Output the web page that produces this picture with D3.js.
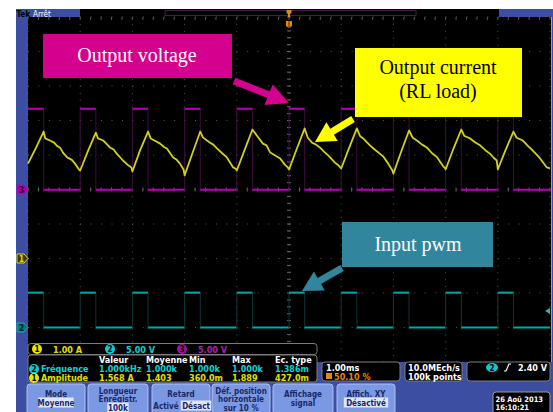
<!DOCTYPE html>
<html>
<head>
<meta charset="utf-8">
<script src="https://cdn.jsdelivr.net/npm/d3@7"></script>
<style>
  body { margin: 0; background: #fff; }
  svg { display: block; }
  .ro { font-family: "DejaVu Sans Condensed", "DejaVu Sans", sans-serif; font-weight: bold; font-size: 9px; }
  .btn { font-size: 8px; }
  .note { font-family: "Liberation Serif", "Times New Roman", serif; font-size: 20px; }
</style>
</head>
<body>
<svg id="scope" width="553" height="412"></svg>
<script>
// graticule divisions (10 x 10, 1 ms / div)
var timeDivs = [-5, -4, -3, -2, -1, 0, 1, 2, 3, 4, 5];
var levelDivs = [0, 1, 2, 3, 4, 5, 6, 7, 8, 9, 10];

// channel settings: scale per div, ground position in divs from bottom
var channels = [
    {ch: 1, label: '1.00 A', perDiv: 1, pos: 3, color: '#d8d820'},
    {ch: 2, label: '5.00 V', perDiv: 5, pos: 1, color: '#00b0b0'},
    {ch: 3, label: '5.00 V', perDiv: 5, pos: 5, color: '#c000c0'}
];

// pwm rising / falling edges (ms)
var pwmEdges = [[-5, -4.7], [-4, -3.7], [-3, -2.7], [-2, -1.7], [-1, -0.7],
                [0, 0.3], [1, 1.3], [2, 2.3], [3, 3.3], [4, 4.3]];
var pwmLevels = [0, 5.05];        // ch2, V
var outLevels = [-0.05, 11.7];    // ch3, V

// ch1 output current (ms, A above ground marker)
var current = [
    [-5.00, 2.75], [-4.85, 3.20], [-4.70, 3.68], [-4.67, 3.48], [-4.58, 3.42], [-4.50, 3.36],
    [-4.44, 3.26], [-4.38, 3.20], [-4.33, 3.07], [-4.25, 2.93], [-4.16, 2.86], [-4.10, 2.75], [-4.02, 2.57],
    [-4.00, 2.55], [-3.85, 3.12], [-3.70, 3.65], [-3.66, 3.48], [-3.56, 3.42], [-3.50, 3.33],
    [-3.43, 3.22], [-3.36, 3.16], [-3.30, 3.04], [-3.18, 2.84], [-3.08, 2.70], [-3.02, 2.64],
    [-3.00, 2.52], [-2.85, 3.15], [-2.70, 3.68], [-2.65, 3.48], [-2.55, 3.40], [-2.47, 3.33],
    [-2.40, 3.24], [-2.34, 3.19], [-2.22, 2.93], [-2.15, 2.86], [-2.09, 2.75], [-2.02, 2.58],
    [-2.00, 2.41], [-1.85, 3.05], [-1.70, 3.68], [-1.65, 3.51], [-1.52, 3.36], [-1.45, 3.30],
    [-1.38, 3.19], [-1.28, 3.05], [-1.19, 2.93], [-1.07, 2.64], [-1.02, 2.60],
    [-1.00, 2.55], [-0.85, 3.15], [-0.70, 3.74], [-0.61, 3.55], [-0.50, 3.33], [-0.43, 3.28],
    [-0.36, 3.07], [-0.28, 3.00], [-0.17, 2.90], [-0.08, 2.72], [-0.01, 2.62],
    [0.00, 2.58], [0.15, 3.18], [0.30, 3.77], [0.36, 3.50], [0.44, 3.36], [0.52, 3.30],
    [0.59, 3.22], [0.67, 3.10], [0.75, 2.99], [0.88, 2.78], [0.96, 2.68],
    [1.00, 2.61], [1.15, 3.20], [1.30, 3.77], [1.36, 3.55], [1.42, 3.48], [1.55, 3.28],
    [1.64, 3.16], [1.74, 3.04], [1.82, 2.93], [1.90, 2.75], [1.98, 2.55],
    [2.00, 2.46], [2.15, 3.10], [2.30, 3.71], [2.37, 3.50], [2.45, 3.42], [2.55, 3.30],
    [2.64, 3.22], [2.74, 3.05], [2.84, 2.93], [2.95, 2.68], [2.99, 2.62],
    [3.00, 2.58], [3.15, 3.18], [3.30, 3.74], [3.36, 3.55], [3.47, 3.48], [3.57, 3.36],
    [3.66, 3.28], [3.76, 3.14], [3.85, 3.04], [3.92, 2.92], [3.98, 2.84],
    [4.00, 2.58], [4.15, 3.15], [4.30, 3.68], [4.36, 3.50], [4.48, 3.42], [4.58, 3.26],
    [4.67, 3.13], [4.74, 3.02], [4.81, 2.90], [4.94, 2.64], [5.00, 2.61]
];

// measurement readout
var measHeaders = ['Valeur', 'Moyenne', 'Min', 'Max', 'Ec. type'];
var measRows = [
    {ch: 2, name: 'Fréquence', vals: ['1.000kHz', '1.000k', '1.000k', '1.000k', '1.386m']},
    {ch: 1, name: 'Amplitude', vals: ['1.568 A', '1.403', '360.0m', '1.889', '427.0m']}
];

var buttons = [
    {x: 27, w: 58, lines: ['Mode'], sel: 'Moyenne'},
    {x: 88, w: 60, lines: ['Longueur', 'Enregistr.'], sel: '100k'},
    {x: 152, w: 58, lines: ['Retard'], sel: 'Désact', other: 'Activé'},
    {x: 212, w: 58, lines: ['Déf. position', 'horizontale', 'sur 10 %']},
    {x: 273, w: 60, lines: ['Affichage', 'signal']},
    {x: 337, w: 58, lines: ['Affich. XY'], sel: 'Désactivé'}
];

var svg = d3.select('#scope');
var frameBlue = '#3c4ea2';

var x = d3.scaleLinear().domain([-5, 5]).range([28, 550]);
var yDiv = d3.scaleLinear().domain([0, 10]).range([362, 17]);
var yCh = {};
channels.forEach(function(c) {
    yCh[c.ch] = d3.scaleLinear()
        .domain([-c.pos * c.perDiv, (10 - c.pos) * c.perDiv])
        .range(yDiv.range());
});

// frame
svg.append('rect').attr('x', 16).attr('y', 9).attr('width', 537).attr('height', 403).attr('fill', frameBlue);
svg.append('rect').attr('x', 28).attr('y', 17).attr('width', 523).attr('height', 345).attr('fill', '#000');
svg.append('line').attr('x1', 551.5).attr('x2', 551.5).attr('y1', 17).attr('y2', 362)
    .attr('stroke', '#8aa0d8').attr('stroke-width', 1);

// top bar
svg.append('rect').attr('x', 80).attr('y', 9).attr('width', 419).attr('height', 8).attr('fill', '#000');
svg.append('rect').attr('x', 165).attr('y', 10.5).attr('width', 251).attr('height', 5)
    .attr('fill', 'none').attr('stroke', '#4a1c4a').attr('stroke-width', 1);
svg.append('text').attr('class', 'ro').attr('x', 16.5).attr('y', 16.5).style('font-size', '8px')
    .attr('fill', '#000').text('Tek');
svg.append('text').attr('class', 'ro').attr('x', 33).attr('y', 16.5).style('font-size', '8px')
    .style('font-weight', 'normal').attr('fill', '#fff').text('Arrêt');

// graticule
var grid = svg.append('g');
grid.selectAll('line.v').data(timeDivs).enter().append('line')
    .attr('x1', function(d) { return x(d); }).attr('x2', function(d) { return x(d); })
    .attr('y1', yDiv(10)).attr('y2', yDiv(0))
    .attr('stroke', '#555').attr('stroke-width', 1)
    .attr('stroke-dasharray', '1,' + ((yDiv(0) - yDiv(1)) / 5 - 1));
grid.selectAll('line.h').data(levelDivs).enter().append('line')
    .attr('y1', function(d) { return yDiv(d); }).attr('y2', function(d) { return yDiv(d); })
    .attr('x1', x(-5)).attr('x2', x(5))
    .attr('stroke', '#555').attr('stroke-width', 1)
    .attr('stroke-dasharray', '1,' + ((x(1) - x(0)) / 5 - 1));
// minor ticks on centre lines and top edge
var minorT = d3.range(-25, 26).map(function(i) { return i / 5; });
var minorL = d3.range(0, 51).map(function(i) { return i / 5; });
grid.selectAll('line.tc').data(minorT).enter().append('line')
    .attr('x1', function(d) { return x(d); }).attr('x2', function(d) { return x(d); })
    .attr('y1', yDiv(5) - 2).attr('y2', yDiv(5) + 2).attr('stroke', '#666');
grid.selectAll('line.tt').data(minorT).enter().append('line')
    .attr('x1', function(d) { return x(d); }).attr('x2', function(d) { return x(d); })
    .attr('y1', yDiv(10)).attr('y2', yDiv(10) + 3).attr('stroke', '#555');
grid.selectAll('line.lc').data(minorL).enter().append('line')
    .attr('y1', function(d) { return yDiv(d); }).attr('y2', function(d) { return yDiv(d); })
    .attr('x1', x(0) - 2).attr('x2', x(0) + 2).attr('stroke', '#666');

// traces
var traces = svg.append('g');
function drawPwm(levels, scale, color, edgeColor) {
    var lo = scale(levels[0]), hi = scale(levels[1]);
    pwmEdges.forEach(function(e, i) {
        var next = i + 1 < pwmEdges.length ? pwmEdges[i + 1][0] : 5;
        [e[0], e[1]].forEach(function(t) {
            if (t > -5) {
                traces.append('line').attr('x1', x(t)).attr('x2', x(t)).attr('y1', hi).attr('y2', lo + 2)
                    .attr('stroke', edgeColor).attr('stroke-width', 1);
            }
        });
        traces.append('line').attr('x1', x(e[0])).attr('x2', x(e[1])).attr('y1', hi).attr('y2', hi)
            .attr('stroke', color).attr('stroke-width', 2);
        traces.append('line').attr('x1', x(e[1])).attr('x2', x(next)).attr('y1', lo).attr('y2', lo)
            .attr('stroke', color).attr('stroke-width', 2);
    });
}
drawPwm(outLevels, yCh[3], '#b800b8', '#3e0e3e');
drawPwm(pwmLevels, yCh[2], '#00a8a8', '#0a3838');

traces.append('path')
    .datum(current)
    .attr('d', d3.line().x(function(d) { return x(d[0]); }).y(function(d) { return yCh[1](d[1]); }))
    .attr('fill', 'none').attr('stroke', '#d0d020').attr('stroke-width', 1.8)
    .attr('stroke-linejoin', 'round');

// channel ground markers on the left
var markerFill = {1: '#3c3c00', 2: '#007a7a', 3: '#a000a0'};
var markerText = {1: '#e0e020', 2: '#002020', 3: '#300030'};
channels.forEach(function(c) {
    var yy = yDiv(c.pos);
    svg.append('path')
        .attr('d', 'M17,' + (yy - 4.5) + 'H24L28,' + yy + 'L24,' + (yy + 4.5) + 'H17Z')
        .attr('fill', markerFill[c.ch]).attr('stroke', c.color).attr('stroke-width', 1);
    svg.append('text').attr('class', 'ro').attr('x', 21.5).attr('y', yy + 3)
        .attr('text-anchor', 'middle').style('font-size', '8px')
        .attr('fill', markerText[c.ch]).text(c.ch);
});

// trigger level marker (right) and trigger position (top)
svg.append('path')
    .attr('d', 'M545,' + yCh[2](2.4) + 'l5,-3v6z')
    .attr('fill', '#00c8c8');
svg.append('path').attr('d', 'M286.5,10h5v3l-1.5,1v3h-2v-3l-1.5,-1z').attr('fill', '#e08a10');
svg.append('path').attr('d', 'M286,21h6v5l-3,2l-3,-2z').attr('fill', '#e08a10');
svg.append('line').attr('x1', 289).attr('x2', 289).attr('y1', 21).attr('y2', 28)
    .attr('stroke', '#5a3000').attr('stroke-width', 1);

// readout panel
var badgeFill = {1: '#e8e800', 2: '#10c8d0', 3: '#a010a0'};
function badge(g, cx, cy, ch) {
    g.append('circle').attr('cx', cx).attr('cy', cy).attr('r', 5).attr('fill', badgeFill[ch]);
    g.append('text').attr('class', 'ro').attr('x', cx).attr('y', cy + 3).attr('text-anchor', 'middle')
        .style('font-size', '8px').attr('fill', '#000').text(ch);
}
var ro = svg.append('g');
ro.append('rect').attr('x', 28).attr('y', 343.5).attr('width', 289).attr('height', 11).attr('rx', 3)
    .attr('fill', '#000').attr('stroke', '#7a7a7a');
ro.append('rect').attr('x', 28).attr('y', 355).attr('width', 289).attr('height', 27).attr('rx', 3)
    .attr('fill', '#000').attr('stroke', '#7a7a7a');
var chX = [37, 110, 182];
var txtColor = {1: '#e0e000', 2: '#10d0d0', 3: '#b020b0'};
channels.forEach(function(c, i) {
    badge(ro, chX[i], 349, c.ch);
    ro.append('text').attr('class', 'ro').attr('x', chX[i] + 16).attr('y', 352.5)
        .attr('fill', txtColor[c.ch]).text(c.label);
});
var colX = [99, 146, 189, 232, 275];
measHeaders.forEach(function(h, i) {
    ro.append('text').attr('class', 'ro').attr('x', colX[i]).attr('y', 363)
        .attr('fill', '#fff').text(h);
});
measRows.forEach(function(r, j) {
    var yy = 372 + j * 9;
    badge(ro, 34, yy - 3, r.ch);
    ro.append('text').attr('class', 'ro').attr('x', 41).attr('y', yy).attr('fill', txtColor[r.ch]).text(r.name);
    r.vals.forEach(function(v, i) {
        ro.append('text').attr('class', 'ro').attr('x', colX[i]).attr('y', yy)
            .attr('fill', txtColor[r.ch]).text(v);
    });
});

// right info boxes
function infoBox(x0, w) {
    svg.append('rect').attr('x', x0).attr('y', 362).attr('width', w).attr('height', 19).attr('rx', 3)
        .attr('fill', '#000').attr('stroke', '#7a7a7a');
}
infoBox(322, 78);
infoBox(405, 57);
infoBox(467, 83);
svg.append('text').attr('class', 'ro').attr('x', 326).attr('y', 370.5).attr('fill', '#fff').text('1.00ms');
svg.append('rect').attr('x', 326).attr('y', 373).attr('width', 6).attr('height', 6).attr('fill', '#e08a10');
svg.append('text').attr('class', 'ro').attr('x', 334).attr('y', 379.5).attr('fill', '#e08a10').text('50.10 %');
svg.append('text').attr('class', 'ro').attr('x', 408).attr('y', 370.5).attr('fill', '#fff').text('10.0MEch/s');
svg.append('text').attr('class', 'ro').attr('x', 408).attr('y', 379.5).attr('fill', '#fff').text('100k points');
svg.append('ellipse').attr('cx', 492).attr('cy', 367.5).attr('rx', 6).attr('ry', 4.5).attr('fill', '#10c8d0');
svg.append('text').attr('class', 'ro').attr('x', 492).attr('y', 370.5).attr('text-anchor', 'middle')
    .style('font-size', '8px').attr('fill', '#000').text('2');
svg.append('path').attr('d', 'M504,371h2l3,-7h2').attr('fill', 'none').attr('stroke', '#fff').attr('stroke-width', 1.2);
svg.append('text').attr('class', 'ro').attr('x', 547).attr('y', 370.5).attr('text-anchor', 'end')
    .attr('fill', '#fff').text('2.40 V');

// soft buttons
buttons.forEach(function(b) {
    var g = svg.append('g');
    g.append('rect').attr('x', b.x).attr('y', 384).attr('width', b.w).attr('height', 30).attr('rx', 3)
        .attr('fill', '#7b99e2').attr('stroke', '#aebff0');
    var cx = b.x + b.w / 2;
    var n = b.lines.length + (b.sel ? 1 : 0);
    var y0 = n === 3 ? 390.5 : 394;
    b.lines.forEach(function(l, i) {
        g.append('text').attr('class', 'ro btn').attr('x', cx).attr('y', y0 + i * 8.5 + 3)
            .attr('text-anchor', 'middle').attr('fill', '#1a2868').text(l);
    });
    if (b.sel) {
        var sy = y0 + b.lines.length * 8.5 + (b.other ? 3 : 0);
        var sx = b.other ? b.x + b.w - 14 : cx;
        var tw = b.sel.length * 4.6 + 3;
        g.append('rect').attr('x', sx - tw / 2).attr('y', sy - 5).attr('width', tw).attr('height', 10)
            .attr('fill', '#dfe5f6');
        g.append('text').attr('class', 'ro btn').attr('x', sx).attr('y', sy + 3)
            .attr('text-anchor', 'middle').attr('fill', '#1a2868').text(b.sel);
        if (b.other) {
            g.append('text').attr('class', 'ro btn').attr('x', b.x + 14).attr('y', sy + 3)
                .attr('text-anchor', 'middle').attr('fill', '#1a2868').text(b.other);
        }
    }
});

// date box
svg.append('rect').attr('x', 493).attr('y', 392).attr('width', 57).attr('height', 22).attr('rx', 3)
    .attr('fill', '#000').attr('stroke', '#9a9a9a');
svg.append('text').attr('class', 'ro').attr('x', 495.5).attr('y', 401.5).style('font-size', '7.5px')
    .attr('fill', '#fff').text('26 Aoû 2013');
svg.append('text').attr('class', 'ro').attr('x', 495.5).attr('y', 410).style('font-size', '7.5px')
    .attr('fill', '#fff').text('16:10:21');

// slide annotations
function arrow(x1, y1, x2, y2, sw, hw, hl, color) {
    var dx = x2 - x1, dy = y2 - y1, len = Math.sqrt(dx * dx + dy * dy);
    var ux = dx / len, uy = dy / len, px = -uy, py = ux;
    var bx = x2 - ux * hl, by = y2 - uy * hl;
    var pts = [
        [x1 + px * sw / 2, y1 + py * sw / 2], [bx + px * sw / 2, by + py * sw / 2],
        [bx + px * hw / 2, by + py * hw / 2], [x2, y2],
        [bx - px * hw / 2, by - py * hw / 2], [bx - px * sw / 2, by - py * sw / 2],
        [x1 - px * sw / 2, y1 - py * sw / 2]
    ];
    svg.append('path').attr('d', 'M' + pts.join('L') + 'Z').attr('fill', color);
}
var notes = svg.append('g');
notes.append('rect').attr('x', 43).attr('y', 34).attr('width', 189).attr('height', 44).attr('fill', '#d4008e');
notes.append('text').attr('class', 'note').attr('x', 137).attr('y', 62).attr('text-anchor', 'middle')
    .attr('fill', '#fff').text('Output voltage');
arrow(234, 81, 289, 103, 7, 22, 22, '#d4008e');

notes.append('rect').attr('x', 355).attr('y', 48).attr('width', 167).attr('height', 69).attr('fill', '#ffff00');
notes.append('text').attr('class', 'note').attr('x', 438).attr('y', 74).attr('text-anchor', 'middle')
    .attr('fill', '#000').text('Output current');
notes.append('text').attr('class', 'note').attr('x', 438).attr('y', 98).attr('text-anchor', 'middle')
    .attr('fill', '#000').text('(RL load)');
arrow(353, 119, 315, 142, 7, 22, 20, '#ffff00');

notes.append('rect').attr('x', 342).attr('y', 222).attr('width', 151).attr('height', 45).attr('fill', '#31859c');
notes.append('text').attr('class', 'note').attr('x', 418).attr('y', 251).attr('text-anchor', 'middle')
    .attr('fill', '#fff').text('Input pwm');
arrow(342, 268, 302, 291, 7, 22, 20, '#31859c');
</script>
</body>
</html>
